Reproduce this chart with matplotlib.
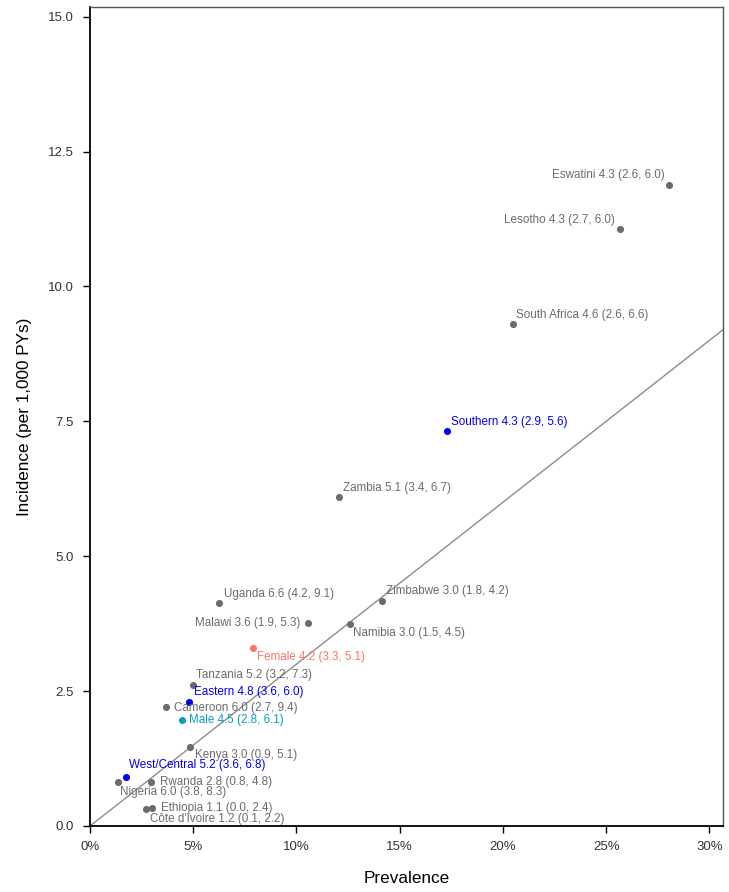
import matplotlib.pyplot as plt
from matplotlib.ticker import PercentFormatter, FormatStrFormatter

plt.rcParams['font.family'] = ['Liberation Sans', 'DejaVu Sans']

# point data: prevalence (%) and incidence (per 1,000 PYs)
names = ["Eswatini 4.3 (2.6, 6.0)", "Lesotho 4.3 (2.7, 6.0)", "South Africa 4.6 (2.6, 6.6)",
         "Southern 4.3 (2.9, 5.6)", "Zambia 5.1 (3.4, 6.7)", "Zimbabwe 3.0 (1.8, 4.2)",
         "Namibia 3.0 (1.5, 4.5)", "Malawi 3.6 (1.9, 5.3)", "Uganda 6.6 (4.2, 9.1)",
         "Female 4.2 (3.3, 5.1)", "Tanzania 5.2 (3.2, 7.3)", "Eastern 4.8 (3.6, 6.0)",
         "Cameroon 6.0 (2.7, 9.4)", "Male 4.5 (2.8, 6.1)", "Kenya 3.0 (0.9, 5.1)",
         "West/Central 5.2 (3.6, 6.8)", "Rwanda 2.8 (0.8, 4.8)", "Nigeria 6.0 (3.8, 8.3)",
         "Ethiopia 1.1 (0.0, 2.4)", "Côte d'Ivoire 1.2 (0.1, 2.2)"]
prevalence = [28.06, 25.67, 20.47, 17.28, 12.04, 14.13, 12.60, 10.57, 6.24, 7.89,
              5.00, 4.79, 3.66, 4.44, 4.84, 1.73, 2.94, 1.34, 2.99, 2.70]
incidence = [11.88, 11.07, 9.31, 7.33, 6.09, 4.17, 3.75, 3.76, 4.14, 3.29,
             2.62, 2.30, 2.21, 1.97, 1.46, 0.91, 0.82, 0.81, 0.33, 0.31]
group = ["country", "country", "country", "region", "country", "country", "country",
         "country", "country", "female", "country", "region", "country", "male",
         "country", "region", "country", "country", "country", "country"]
ref_slope = 0.3

colors = {"country": "#6b6b6b", "region": "#0000ee", "female": "#f8766d", "male": "#0b9dc0"}

# label placement (offset in pixels from the point, horizontal alignment)
label_pos = {
    "Eswatini": (-5, 10, 'right'), "Lesotho": (-5, 9, 'right'), "South Africa": (3, 9, 'left'),
    "Southern": (4, 9, 'left'), "Zambia": (4, 9, 'left'), "Zimbabwe": (4, 10, 'left'),
    "Namibia": (3, -9, 'left'), "Malawi": (-8, 0, 'right'), "Uganda": (5, 9, 'left'),
    "Female": (4, -9, 'left'), "Tanzania": (3, 10, 'left'), "Eastern": (5, 10, 'left'),
    "Cameroon": (8, -1, 'left'), "Male": (7, 0, 'left'), "Kenya": (5, -8, 'left'),
    "West/Central": (3, 12, 'left'), "Rwanda": (9, 0, 'left'), "Nigeria": (2, -10, 'left'),
    "Ethiopia": (9, 0, 'left'), "Côte d'Ivoire": (4, -10, 'left'),
}

fig = plt.figure(figsize=(7.29, 8.92), dpi=100)
ax = fig.add_axes([0.1235, 0.074, 0.868, 0.9176])

ax.axline((0, 0), slope=ref_slope, color="#8c8c8c", lw=1.0, zorder=1)

for name, x, y, g in zip(names, prevalence, incidence, group):
    c = colors[g]
    ax.scatter(x, y, s=26, color=c, zorder=3, linewidths=0)
    key = name.split(" (")[0].rsplit(" ", 1)[0]
    dx, dy, ha = label_pos[key]
    ax.annotate(name, (x, y), xytext=(dx, dy), textcoords='offset pixels',
                ha=ha, va='center', fontsize=8.4, color=c)

ax.set_xlim(0, 30.65)
ax.set_ylim(0, 15.17)
ax.set_xticks([0, 5, 10, 15, 20, 25, 30])
ax.set_yticks([0, 2.5, 5, 7.5, 10, 12.5, 15])
ax.xaxis.set_major_formatter(PercentFormatter(xmax=100, decimals=0))
ax.yaxis.set_major_formatter(FormatStrFormatter('%.1f'))
ax.tick_params(direction='out', length=5, width=1, labelsize=9.5, color='black',
               labelcolor='#333333')
ax.tick_params(axis='y', pad=6.5)
ax.tick_params(axis='x', pad=6)
for s in ['left', 'bottom']:
    ax.spines[s].set_linewidth(1.3)
    ax.spines[s].set_color('black')
for s in ['top', 'right']:
    ax.spines[s].set_linewidth(1.0)
    ax.spines[s].set_color('#555555')

ax.set_xlabel("Prevalence", fontsize=12.3, labelpad=13)
ax.set_ylabel("Incidence (per 1,000 PYs)", fontsize=12.3, labelpad=12)

fig.savefig("out.png", dpi=100)
